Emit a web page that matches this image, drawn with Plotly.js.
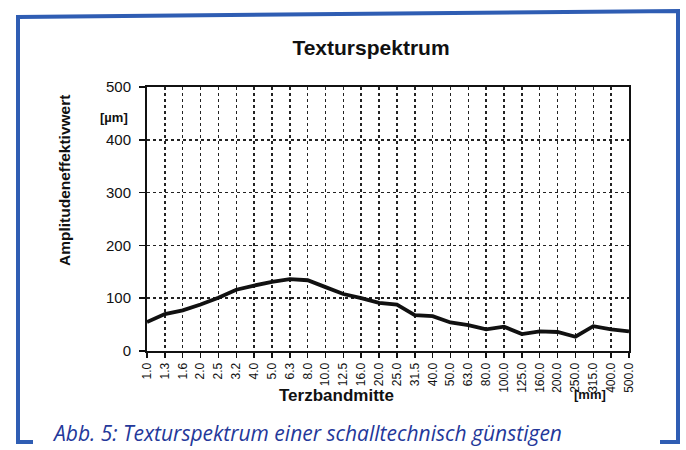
<!DOCTYPE html>
<html>
<head>
<meta charset="utf-8">
<script src="https://cdn.plot.ly/plotly-3.0.1.min.js"></script>
<style>html,body{margin:0;padding:0;background:#fff;}#chart{width:686px;height:450px;}</style>
</head>
<body>
<div id="chart"></div>
<script>
// Data
const categories = ["1.0","1.3","1.6","2.0","2.5","3.2","4.0","5.0","6.3","8.0","10.0","12.5","16.0","20.0","25.0","31.5","40.0","50.0","63.0","80.0","100.0","125.0","160.0","200.0","250.0","315.0","400.0","500.0"];
const amplitude = [55,70,77,88,101,116,124,131,136,134,121,108,100,91,88,68,66,54,49,41,46,32,37,36,27,47,41,37];
const yTickValues = [0,100,200,300,400,500];

// Layout geometry helpers (pixel -> paper)
const W = 686, H = 450;
const L = 147, R = 629, T = 87, B = 351;
const px = x => (x - L) / (R - L);
const py = y => (B - y) / (B - T);

const frameColor = '#2f5db3';
const framePath = 'M ' + px(33) + ',' + py(442) +
  ' L ' + px(18) + ',' + py(442) +
  ' L ' + px(18) + ',' + py(17) +
  ' L ' + px(678) + ',' + py(11) +
  ' L ' + px(678) + ',' + py(442) +
  ' L ' + px(660) + ',' + py(442);

const trace = {
  x: categories,
  y: amplitude,
  type: 'scatter',
  mode: 'lines',
  line: {color: '#111', width: 3.8},
  hoverinfo: 'x+y'
};

const boldFont = {family: 'Liberation Sans, Arial, sans-serif', color: '#111'};

const layout = {
  width: W, height: H,
  paper_bgcolor: '#fff', plot_bgcolor: '#fff',
  margin: {l: L, r: W - R, t: T, b: H - B, pad: 0},
  showlegend: false,
  title: {
    text: '<b>Texturspektrum</b>',
    x: 371 / W, xanchor: 'center',
    y: 1 - 48 / H, yanchor: 'middle',
    xref: 'container', yref: 'container',
    font: Object.assign({size: 21}, boldFont)
  },
  xaxis: {
    type: 'category',
    range: [0, categories.length - 1],
    showline: true, linecolor: '#111', linewidth: 2, mirror: true,
    showgrid: true, gridcolor: '#222', gridwidth: 1.5, griddash: 'dot',
    ticks: 'outside', ticklen: 5, tickwidth: 1.5, tickcolor: '#111',
    tickangle: -90,
    tickfont: {family: 'Liberation Sans, Arial, sans-serif', size: 12, color: '#111'},
    ticklabelstandoff: 0,
    zeroline: false,
    fixedrange: true
  },
  yaxis: {
    range: [0, 500],
    tickvals: yTickValues,
    ticktext: yTickValues.map(String),
    showline: true, linecolor: '#111', linewidth: 2, mirror: true,
    showgrid: true, gridcolor: '#222', gridwidth: 1.5, griddash: 'dot',
    ticks: 'outside', ticklen: 6, tickwidth: 1.5, tickcolor: '#111',
    tickfont: {family: 'Liberation Sans, Arial, sans-serif', size: 15, color: '#111'},
    ticklabelstandoff: 5,
    zeroline: false,
    fixedrange: true
  },
  shapes: [{
    type: 'path', xref: 'paper', yref: 'paper',
    path: framePath,
    line: {color: frameColor, width: 4},
    layer: 'above'
  }],
  annotations: [
    {
      text: '<b>Amplitudeneffektivwert</b>', textangle: -90,
      xref: 'paper', yref: 'paper', x: px(64), y: py(181),
      xanchor: 'center', yanchor: 'middle', showarrow: false,
      font: Object.assign({size: 15.5}, boldFont)
    },
    {
      text: '<b>[µm]</b>',
      xref: 'paper', yref: 'paper', x: px(114), y: py(117),
      xanchor: 'center', yanchor: 'middle', showarrow: false,
      font: Object.assign({size: 13}, boldFont)
    },
    {
      text: '<b>Terzbandmitte</b>',
      xref: 'paper', yref: 'paper', x: px(336), y: py(395),
      xanchor: 'center', yanchor: 'middle', showarrow: false,
      font: Object.assign({size: 17}, boldFont)
    },
    {
      text: '<b>[mm]</b>',
      xref: 'paper', yref: 'paper', x: px(590), y: py(394),
      xanchor: 'center', yanchor: 'middle', showarrow: false,
      font: Object.assign({size: 13}, boldFont)
    },
    {
      text: '<i>Abb. 5: Texturspektrum einer schalltechnisch günstigen</i>',
      xref: 'paper', yref: 'paper', x: px(50), y: py(433),
      xanchor: 'left', yanchor: 'middle', showarrow: false,
      font: {family: 'Open Sans, Noto Sans, sans-serif', size: 21, color: '#24389a'}
    }
  ]
};

Plotly.newPlot('chart', [trace], layout, {displayModeBar: false, staticPlot: true});
</script>
</body>
</html>
